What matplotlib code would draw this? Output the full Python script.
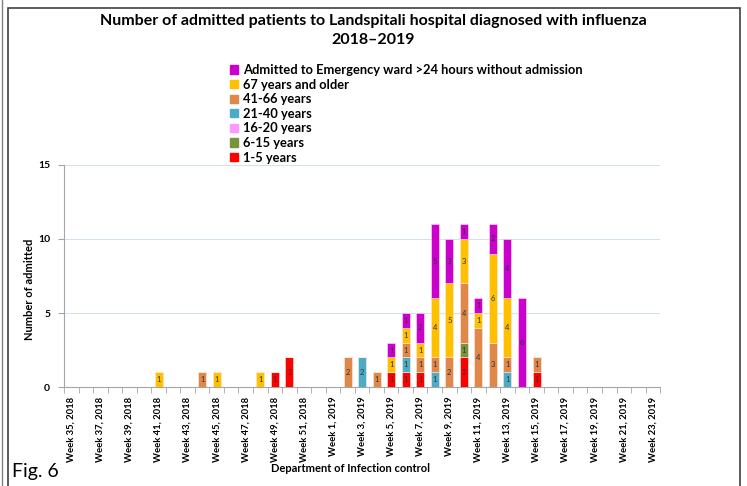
import numpy as np
import matplotlib
matplotlib.use("Agg")
from matplotlib import pyplot as plt
from matplotlib.patches import Rectangle
from matplotlib.lines import Line2D

plt.rcParams['font.family'] = ['Lato', 'DejaVu Sans']

# Weeks 35-52 of 2018 and 1-23 of 2019
weeks = [f"Week {w}, 2018" for w in range(35, 53)] + [f"Week {w}, 2019" for w in range(1, 24)]

#            35 ............................... 52 | 1 .......................................... 23
age_1_5   = [0,0,0,0,0,0,0,0,0,0,0,0,0,0,1,2,0,0,  0,0,0,0,1,1,1,0,0,2,0,0,0,0,1,0,0,0,0,0,0,0,0]
age_6_15  = [0,0,0,0,0,0,0,0,0,0,0,0,0,0,0,0,0,0,  0,0,0,0,0,0,0,0,0,1,0,0,0,0,0,0,0,0,0,0,0,0,0]
age_16_20 = [0,0,0,0,0,0,0,0,0,0,0,0,0,0,0,0,0,0,  0,0,0,0,0,0,0,0,0,0,0,0,0,0,0,0,0,0,0,0,0,0,0]
age_21_40 = [0,0,0,0,0,0,0,0,0,0,0,0,0,0,0,0,0,0,  0,0,2,0,0,1,0,1,0,0,0,0,1,0,0,0,0,0,0,0,0,0,0]
age_41_66 = [0,0,0,0,0,0,0,0,0,1,0,0,0,0,0,0,0,0,  0,2,0,1,0,1,1,1,2,4,4,3,1,0,1,0,0,0,0,0,0,0,0]
age_67    = [0,0,0,0,0,0,1,0,0,0,1,0,0,1,0,0,0,0,  0,0,0,0,1,1,1,4,5,3,1,6,4,0,0,0,0,0,0,0,0,0,0]
er_24h    = [0,0,0,0,0,0,0,0,0,0,0,0,0,0,0,0,0,0,  0,0,0,0,1,1,2,5,3,1,1,2,4,6,0,0,0,0,0,0,0,0,0]

series = [
    ("1-5 years", age_1_5, "#FF0000"),
    ("6-15 years", age_6_15, "#77933C"),
    ("16-20 years", age_16_20, "#FF99FF"),
    ("21-40 years", age_21_40, "#4BACC6"),
    ("41-66 years", age_41_66, "#E0874A"),
    ("67 years and older", age_67, "#FFC000"),
    ("Admitted to Emergency ward >24 hours without admission", er_24h, "#CC00CC"),
]

fig = plt.figure(figsize=(7.47, 4.86), dpi=100)
ax = fig.add_axes([0.0857, 0.2037, 0.798, 0.4568])

x = np.arange(len(weeks))
bottom = np.zeros(len(weeks))
handles = []
for name, vals, col in series:
    vals = np.array(vals, dtype=float)
    ax.bar(x, vals, 0.55, bottom=bottom, color=col, edgecolor="#FFE8E0", linewidth=0.4, zorder=3)
    for xi, v, b in zip(x, vals, bottom):
        if v > 0:
            ax.text(xi, b + v / 2, f"{int(v)}", ha="center", va="center", fontsize=5.5, color="#333333", zorder=4)
    bottom += vals
    handles.append(Rectangle((0, 0), 1, 1, color=col, label=name))

ax.set_xlim(-0.5, len(weeks) - 0.5)
ax.set_ylim(0, 15)
ax.set_yticks([0, 5, 10, 15])
ax.set_yticklabels(["0", "5", "10", "15"], fontsize=7.5, fontweight="bold")
ax.yaxis.grid(True, color="#D6E1EE", linewidth=0.8, zorder=0)
ax.set_axisbelow(True)

ax.set_xticks(x[::2])
ax.set_xticklabels(weeks[::2], rotation=90, fontsize=6.8, fontweight="bold")
ax.set_xticks(np.arange(-0.5, len(weeks)), minor=True)
ax.tick_params(axis="x", which="major", length=0, pad=7)
ax.tick_params(axis="x", which="minor", length=4, color="#A6A6A6")
ax.tick_params(axis="y", length=4, color="#A6A6A6", pad=6)

for s in ["top", "right"]:
    ax.spines[s].set_visible(False)
for s in ["left", "bottom"]:
    ax.spines[s].set_color("#A6A6A6")

ax.set_ylabel("Number of admitted", fontsize=8, fontweight="bold")
ax.yaxis.set_label_coords(-0.048, 0.44)
fig.text(0.469, 0.028, "Department of Infection control", ha="center", fontsize=8, fontweight="bold")

fig.text(0.50, 0.957, "Number of admitted patients to Landspitali hospital diagnosed with influenza",
         ha="center", va="center", fontsize=11.5, fontweight="bold")
fig.text(0.50, 0.917, "2018\u20132019", ha="center", va="center", fontsize=11.5, fontweight="bold")

fig.legend(handles=handles[::-1], loc="upper left", bbox_to_anchor=(0.308, 0.868),
           frameon=False, prop={"weight": "bold", "size": 9.3},
           handlelength=0.6, handleheight=0.6, handletextpad=0.4, labelspacing=0.2,
           borderaxespad=0, borderpad=0)

# frame around the figure panel
fig.add_artist(Rectangle((0.011, -0.02), 0.98, 1.003, transform=fig.transFigure,
                         fill=False, edgecolor="#404040", linewidth=1.2))
fig.add_artist(Line2D([0.003, 0.003], [0, 1], transform=fig.transFigure, color="#808080", linewidth=1))
fig.text(0.016, 0.012, "Fig. 6", fontsize=14, ha="left", va="bottom")

fig.savefig("out.png", dpi=100)
